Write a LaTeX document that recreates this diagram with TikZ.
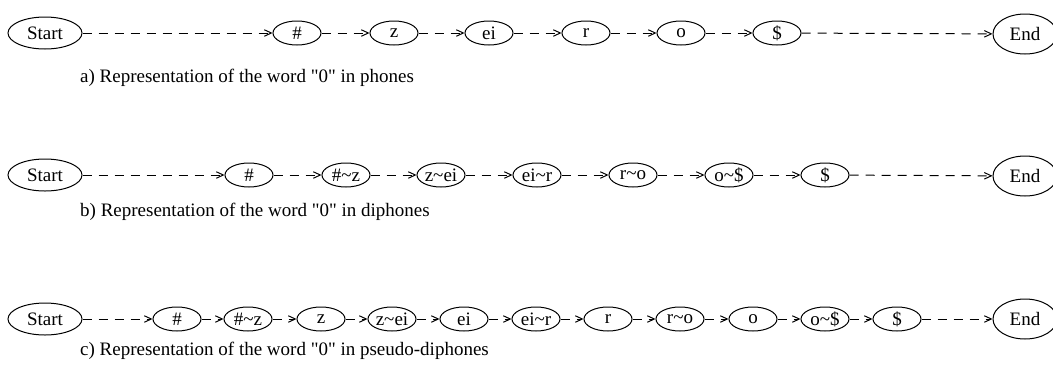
\documentclass[tikz,border=0pt]{standalone}
\usepackage{fontspec}
\setmainfont{Liberation Serif}
\usetikzlibrary{shapes.geometric,arrows.meta}
\begin{document}
\begin{tikzpicture}[x=1pt,y=-1pt,
  every node/.style={font=\fontsize{19}{22}\selectfont},
  ph/.style={draw,ellipse,line width=1pt,minimum width=48pt,minimum height=24pt,inner sep=0pt},
  se/.style={draw,ellipse,line width=1pt,minimum width=74pt,minimum height=32pt,inner sep=0pt},
  en/.style={draw,ellipse,line width=1pt,minimum width=64pt,minimum height=40pt,inner sep=0pt},
  captext/.style={anchor=west,inner sep=0pt},
  link/.style={line width=1pt,dash pattern=on 9pt off 7pt,-{Straight Barb[length=7pt,width=6.5pt]}}]
\useasboundingbox (0,0) rectangle (1053,373);
% Row a
\node[se] (aS) at (45,33) {Start};
\node[ph] (a1) at (297,33) {\#};
\node[ph] (a2) at (394,33) {z};
\node[ph] (a3) at (489,33) {ei};
\node[ph] (a4) at (586,33) {r};
\node[ph] (a5) at (681,33) {o};
\node[ph] (a6) at (777,33) {\$};
\node[en] (aE) at (1025,34) {End};
\foreach \p/\q in {aS/a1,a1/a2,a2/a3,a3/a4,a4/a5,a5/a6,a6/aE} \draw[link] (\p) -- (\q);
\node[captext] (capa) at (80,78) {a) Representation of the word \textquotedbl 0\textquotedbl\ in phones};
% Row b
\node[se] (bS) at (45,175) {Start};
\node[ph] (b1) at (249,175) {\#};
\node[ph] (b2) at (346,175) {\#\textasciitilde z};
\node[ph] (b3) at (441,175) {z\textasciitilde ei};
\node[ph] (b4) at (537,175) {ei\textasciitilde r};
\node[ph] (b5) at (633,175) {r\textasciitilde o};
\node[ph] (b6) at (729,175) {o\textasciitilde\$};
\node[ph] (b7) at (825,175) {\$};
\node[en] (bE) at (1025,176) {End};
\foreach \p/\q in {bS/b1,b1/b2,b2/b3,b3/b4,b4/b5,b5/b6,b6/b7,b7/bE} \draw[link] (\p) -- (\q);
\node[captext] (capb) at (80,212) {b) Representation of the word \textquotedbl 0\textquotedbl\ in diphones};
% Row c
\node[se] (cS) at (45,319) {Start};
\node[ph] (c1) at (177,319) {\#};
\node[ph] (c2) at (248,319) {\#\textasciitilde z};
\node[ph] (c3) at (321,319) {z};
\node[ph] (c4) at (392,319) {z\textasciitilde ei};
\node[ph] (c5) at (464,319) {ei};
\node[ph] (c6) at (536,319) {ei\textasciitilde r};
\node[ph] (c7) at (608,319) {r};
\node[ph] (c8) at (680,319) {r\textasciitilde o};
\node[ph] (c9) at (753,319) {o};
\node[ph] (c10) at (825,319) {o\textasciitilde\$};
\node[ph] (c11) at (897,319) {\$};
\node[en] (cE) at (1025,319) {End};
\foreach \p/\q in {cS/c1,c1/c2,c2/c3,c3/c4,c4/c5,c5/c6,c6/c7,c7/c8,c8/c9,c9/c10,c10/c11,c11/cE} \draw[link] (\p) -- (\q);
\node[captext] (capc) at (80,351) {c) Representation of the word \textquotedbl 0\textquotedbl\ in pseudo-diphones};
\end{tikzpicture}
\end{document}
